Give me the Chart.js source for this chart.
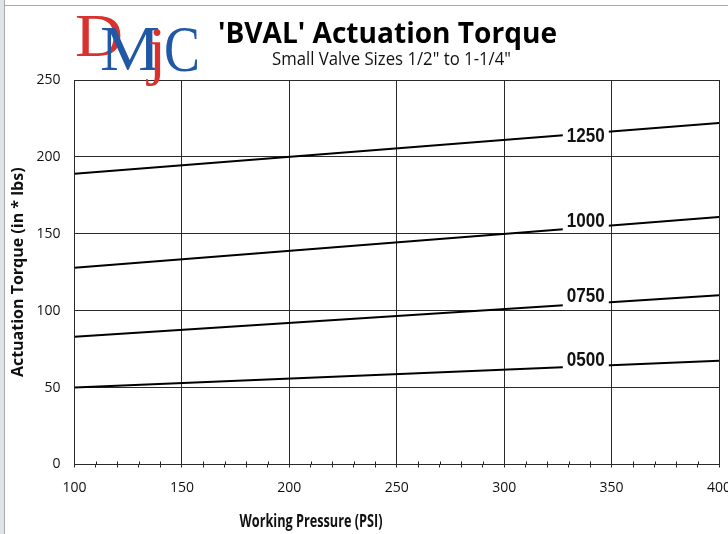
<!DOCTYPE html>
<html>
<head>
<meta charset="utf-8">
<title>BVAL Actuation Torque</title>
<script src="https://cdn.jsdelivr.net/npm/chart.js@4.4.0/dist/chart.umd.min.js"></script>
<style>
  html, body { margin: 0; padding: 0; background: #fff; }
  #wrap { width: 728px; height: 534px; position: relative; }
</style>
</head>
<body>
<div id="wrap"><canvas id="myChart" width="728" height="534"></canvas></div>
<script>
// data
const pressure = [100, 400];
const valveSizes = ['1250', '1000', '0750', '0500'];
const torque1250 = [189, 222];
const torque1000 = [128, 161];
const torque0750 = [83, 110];
const torque0500 = [50, 67.5];
const xTicks = [100, 150, 200, 250, 300, 350, 400];
const yTicks = [0, 50, 100, 150, 200, 250];

const allTorque = [torque1250, torque1000, torque0750, torque0500];
const labelAt = 338;            // psi where the size label sits on each line
const labelShift = [8, 0, -2, 0];

const tickFont = { family: '"Open Sans", sans-serif', size: 14 };

// draw text squeezed to a given width (the original uses condensed faces)
function fitText(c, text, cx, y, width, font, color, align) {
  c.save();
  c.font = font;
  c.fillStyle = color || '#000';
  c.textAlign = align || 'center';
  c.textBaseline = 'alphabetic';
  const w = c.measureText(text).width;
  const s = width / w;
  c.translate(cx, y);
  c.scale(s, 1);
  c.fillText(text, 0, 0);
  c.restore();
}

const decorPlugin = {
  id: 'decor',
  beforeDraw(chart) {
    const c = chart.ctx;
    c.save();
    // window frame on the left and top
    c.fillStyle = '#dfe4ea';
    c.fillRect(0, 0, 4, chart.height);
    c.strokeStyle = '#a8a8a8';
    c.lineWidth = 1;
    c.beginPath();
    c.moveTo(4.5, 0); c.lineTo(4.5, chart.height);
    c.moveTo(4, 5.5); c.lineTo(chart.width, 5.5);
    c.stroke();
    c.restore();
  },
  afterDraw(chart) {
    const c = chart.ctx;
    c.save();
    // logo
    const red = '#d8322e', blue = '#2158a6';
    fitText(c, 'D', 75, 56, 48, '62px "Liberation Serif", serif', red, 'left');
    fitText(c, 'M', 100, 70, 60, '64px "Liberation Serif", serif', blue, 'left');
    fitText(c, 'j', 148, 72, 18, '66px "Liberation Serif", serif', red, 'left');
    fitText(c, 'C', 164, 71, 36, '66px "Liberation Serif", serif', blue, 'left');

    // titles
    fitText(c, "'BVAL' Actuation Torque", 387.5, 43, 339, 'bold 28px "Open Sans", sans-serif', '#000');
    fitText(c, 'Small Valve Sizes 1/2" to 1-1/4"', 391.5, 65, 239, '18px "Open Sans", sans-serif', '#111');
    fitText(c, 'Working Pressure (PSI)', 311, 527, 143, 'bold 17px "Open Sans", sans-serif', '#111');
    c.restore();
  },
  afterDatasetsDraw(chart) {
    const c = chart.ctx;
    const xs = chart.scales.x;
    const ys = chart.scales.y;
    c.save();
    // minor ticks also poke above the axis
    c.strokeStyle = '#222';
    c.lineWidth = 1;
    c.beginPath();
    for (let v = 110; v < 400; v += 10) {
      if (v % 50 === 0) continue;
      const px = Math.round(xs.getPixelForValue(v)) + 0.5;
      c.moveTo(px, ys.bottom - 3);
      c.lineTo(px, ys.bottom);
    }
    c.stroke();

    // size labels sitting in a gap of each line
    chart.data.datasets.forEach((ds, i) => {
      const d = ds.data;
      const valAt = p => d[0].y + (d[1].y - d[0].y) * (p - d[0].x) / (d[1].x - d[0].x);
      const cx = xs.getPixelForValue(labelAt);
      const x1 = cx - 23, x2 = cx + 23;
      const p1 = xs.getValueForPixel(x1), p2 = xs.getValueForPixel(x2);
      const y1 = ys.getPixelForValue(valAt(p1)), y2 = ys.getPixelForValue(valAt(p2));
      c.fillStyle = '#fff';
      c.beginPath();
      c.moveTo(x1, y1 - 3); c.lineTo(x2, y2 - 3);
      c.lineTo(x2, y2 + 3); c.lineTo(x1, y1 + 3);
      c.closePath();
      c.fill();
      const cy = ys.getPixelForValue(valAt(labelAt));
      fitText(c, ds.label, cx, cy + labelShift[i], 38, 'bold 20px "Liberation Sans", sans-serif', '#111');
    });
    c.restore();
  }
};

const ctx = document.getElementById('myChart');

const myChart = new Chart(ctx, {
  type: 'line',
  data: {
    datasets: valveSizes.map((size, i) => ({
      label: size,
      data: pressure.map((p, j) => ({ x: p, y: allTorque[i][j] })),
      borderColor: '#000',
      borderWidth: 2,
      pointRadius: 0,
      tension: 0,
      fill: false
    }))
  },
  options: {
    responsive: false,
    animation: false,
    layout: { padding: { top: 80, left: 8, right: 9, bottom: 8 } },
    plugins: {
      legend: { display: false },
      tooltip: { enabled: false }
    },
    scales: {
      x: {
        type: 'linear',
        min: 100,
        max: 400,
        afterFit(scale) {
          scale.height = 534 - 8 - 464.5;
          scale.paddingLeft = 0;
          scale.paddingRight = 0;
        },
        ticks: {
          stepSize: 10,
          autoSkip: false,
          maxRotation: 0,
          padding: 12,
          color: '#111',
          font: tickFont,
          callback: v => (xTicks.includes(v) ? String(v) : '')
        },
        grid: {
          color: c => (c.tick && c.tick.value % 50 === 0 ? '#2a2a2a' : 'rgba(0,0,0,0)'),
          tickColor: '#2a2a2a',
          tickLength: 3,
          lineWidth: 1
        },
        border: { color: '#2a2a2a', width: 1 }
      },
      y: {
        min: 0,
        max: 250,
        afterFit(scale) {
          scale.width = 66.5;
          scale.paddingTop = 0;
          scale.paddingBottom = 0;
        },
        ticks: {
          stepSize: 50,
          padding: 14,
          color: '#111',
          font: tickFont,
          callback: v => (yTicks.includes(v) ? String(v) : '')
        },
        grid: {
          color: '#2a2a2a',
          drawTicks: false,
          lineWidth: 1
        },
        border: { color: '#2a2a2a', width: 1 },
        title: {
          display: true,
          text: 'Actuation Torque (in * lbs)',
          color: '#111',
          font: { family: '"Open Sans", sans-serif', size: 16, weight: 'bold' },
          padding: { top: 1, bottom: 0 }
        }
      }
    }
  },
  plugins: [decorPlugin]
});
</script>
</body>
</html>
